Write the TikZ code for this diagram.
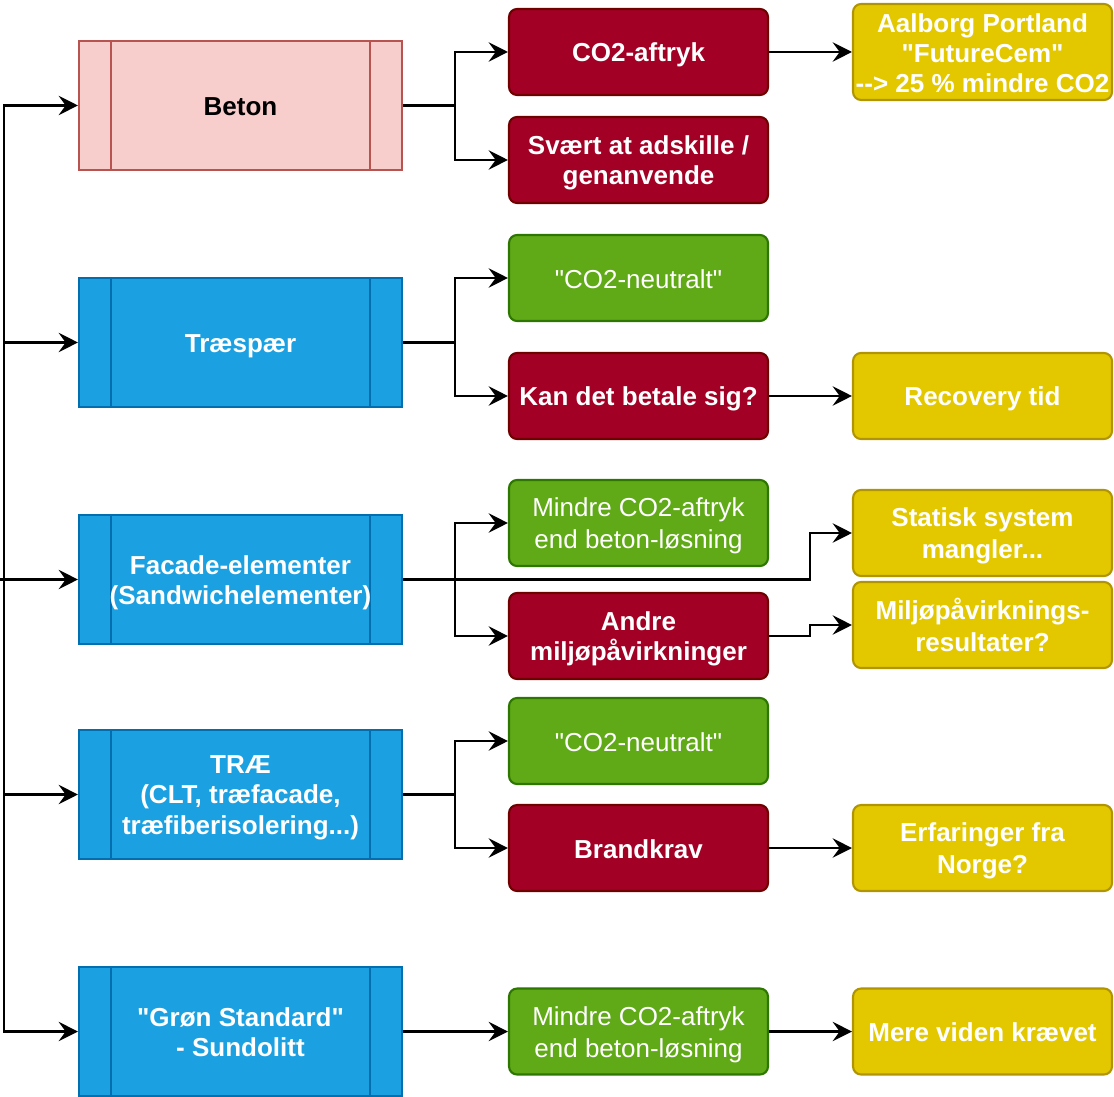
\documentclass[tikz,border=0pt]{standalone}
\usepackage{fontspec}
\setmainfont{Liberation Sans}
\usepackage{tikz}
\usetikzlibrary{arrows.meta, calc}

\definecolor{betonfill}{HTML}{F8CECC}
\definecolor{betonline}{HTML}{B85450}
\definecolor{blaafill}{HTML}{1BA1E2}
\definecolor{blaaline}{HTML}{006EAF}
\definecolor{roedfill}{HTML}{A20025}
\definecolor{roedline}{HTML}{6F0000}
\definecolor{groenfill}{HTML}{60A917}
\definecolor{groenline}{HTML}{2D7600}
\definecolor{gulfill}{HTML}{E3C800}
\definecolor{gulline}{HTML}{B09500}

\newcommand{\linjestrut}{\rule[-0.15em]{0pt}{1.1em}}
\newcommand{\anf}{\textquotedbl}

\tikzset{
  boxtekst/.style={align=flush center, inner sep=0pt,
    execute at begin node=\linjestrut, execute at end node=\linjestrut},
  procbox/.style 2 args={rectangle, fill=#1, draw=#2, line width=1.2pt,
    minimum width=6.46cm, minimum height=2.58cm, text width=6.46cm, boxtekst,
    font=\fontsize{14.8}{17}\selectfont\bfseries,
    path picture={
      \draw[#2, line width=1.2pt]
        ([xshift=0.64cm]path picture bounding box.north west) --
        ([xshift=0.64cm]path picture bounding box.south west);
      \draw[#2, line width=1.2pt]
        ([xshift=-0.64cm]path picture bounding box.north east) --
        ([xshift=-0.64cm]path picture bounding box.south east);
    }},
  tagbox/.style 2 args={rectangle, rounded corners=0.16cm, fill=#1, draw=#2,
    line width=1.2pt, minimum width=5.18cm, minimum height=1.72cm,
    text width=5.18cm, boxtekst, text=white,
    font=\fontsize{14.8}{17}\selectfont\bfseries},
  roed/.style={tagbox={roedfill}{roedline}},
  groen/.style={tagbox={groenfill}{groenline}, font=\fontsize{14.8}{17}\selectfont},
  gul/.style={tagbox={gulfill}{gulline}},
  arr/.style={-{Stealth[length=11pt, width=11pt, inset=4pt]}, line width=1.2pt}
}

\begin{document}
\begin{tikzpicture}[x=0.02cm, y=-0.02cm]

  \useasboundingbox (0,0) rectangle (1114,1097);

  % --- Hjaelpepunkter ---
  \coordinate (root) at (0,579.5);
  \coordinate (jL) at (4,0);
  \coordinate (jA) at (455,0);
  \coordinate (jB) at (810,0);

  % --- Materialer (venstre) ---
  \node[procbox={betonfill}{betonline}] (beton) at (240.5,105.5) {Beton};
  \node[procbox={blaafill}{blaaline}, text=white] (traespaer) at (240.5,342.5) {Træspær};
  \node[procbox={blaafill}{blaaline}, text=white] (facade) at (240.5,579.5)
    {Facade-elementer\\(Sandwichelementer)};
  \node[procbox={blaafill}{blaaline}, text=white] (trae) at (240.5,794.5)
    {TRÆ\\(CLT, træfacade,\\træfiberisolering...)};
  \node[procbox={blaafill}{blaaline}, text=white] (groenstd) at (240.5,1031.5)
    {\anf Grøn Standard\anf\\- Sundolitt};

  % --- Egenskaber (midten) ---
  \node[roed] (co2aftryk) at (638.5,52) {CO2-aftryk};
  \node[roed] (adskille) at (638.5,160) {Svært at adskille /\\genanvende};
  \node[groen] (neutralA) at (638.5,278) {\anf CO2-neutralt\anf};
  \node[roed] (betale) at (638.5,396) {Kan det betale sig?};
  \node[groen] (mindreA) at (638.5,523) {Mindre CO2-aftryk\\end beton-løsning};
  \node[roed] (andre) at (638.5,636) {Andre\\miljøpåvirkninger};
  \node[groen] (neutralB) at (638.5,741) {\anf CO2-neutralt\anf};
  \node[roed] (brandkrav) at (638.5,848) {Brandkrav};
  \node[groen] (mindreB) at (638.5,1031.5) {Mindre CO2-aftryk\\end beton-løsning};

  % --- Noter (hoejre) ---
  \node[gul, minimum height=1.92cm] (aalborg) at (982.5,52)
    {Aalborg Portland\\\anf FutureCem\anf\\\mbox{-}\mbox{-}> 25 \% mindre CO2};
  \node[gul] (recovery) at (982.5,396) {Recovery tid};
  \node[gul] (statisk) at (982.5,533) {Statisk system\\mangler...};
  \node[gul] (miljoe) at (982.5,625) {Miljøpåvirknings-\\resultater?};
  \node[gul] (norge) at (982.5,848) {Erfaringer fra\\Norge?};
  \node[gul] (viden) at (982.5,1031.5) {Mere viden krævet};

  % --- Venstre stamme ---
  \foreach \m in {beton, traespaer, trae, groenstd}{
    \draw[arr] (root) -- (root -| jL) |- (\m.west);
  }
  \draw[arr] (root) -- (facade.west);

  % --- Forgreninger ---
  \draw[arr] (beton.east) -- (beton.east -| jA) |- (co2aftryk.west);
  \draw[arr] (beton.east) -- (beton.east -| jA) |- (adskille.west);
  \draw[arr] (traespaer.east) -- (traespaer.east -| jA) |- (neutralA.west);
  \draw[arr] (traespaer.east) -- (traespaer.east -| jA) |- (betale.west);
  \draw[arr] (facade.east) -- (facade.east -| jA) |- (mindreA.west);
  \draw[arr] (facade.east) -- (facade.east -| jA) |- (andre.west);
  \draw[arr] (facade.east) -- (facade.east -| jB) |- (statisk.west);
  \draw[arr] (trae.east) -- (trae.east -| jA) |- (neutralB.west);
  \draw[arr] (trae.east) -- (trae.east -| jA) |- (brandkrav.west);
  \draw[arr] (groenstd.east) -- (mindreB.west);

  % --- Til noterne ---
  \draw[arr] (co2aftryk.east) -- (aalborg.west |- co2aftryk.east);
  \draw[arr] (betale.east) -- (recovery.west);
  \draw[arr] (andre.east) -- (andre.east -| jB) |- (miljoe.west);
  \draw[arr] (brandkrav.east) -- (norge.west);
  \draw[arr] (mindreB.east) -- (viden.west);

\end{tikzpicture}
\end{document}
